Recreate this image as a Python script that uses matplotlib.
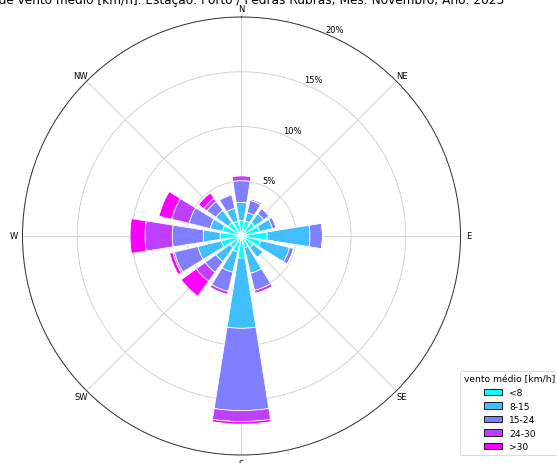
import numpy as np
import matplotlib
matplotlib.use("Agg")
import matplotlib.pyplot as plt
from matplotlib.patches import Patch

# Wind directions (16 sectors, clockwise from north)
directions = ["N", "NNE", "NE", "ENE", "E", "ESE", "SE", "SSE",
              "S", "SSW", "SW", "WSW", "W", "WNW", "NW", "NNW"]

# Speed classes [km/h]
speed_bins = ["<8", "8-15", "15-24", "24-30", ">30"]

# Frequency (%) of each speed class per direction
freq_lt8 = [1.4, 1.4, 1.5, 1.7, 2.35, 1.8, 1.3, 1.1, 2.0, 1.5, 1.3, 1.9, 1.96, 1.8, 1.5, 1.4]
freq_8_15 = [1.67, 0.8, 1.0, 1.2, 3.9, 2.7, 1.15, 2.4, 6.43, 1.9, 1.6, 2.2, 1.53, 1.14, 1.4, 1.2]
freq_15_24 = [1.98, 1.15, 0.6, 0.35, 1.15, 0.4, 0.0, 1.6, 7.52, 1.8, 1.2, 2.2, 2.83, 1.98, 1.0, 1.25]
freq_24_30 = [0.46, 0.15, 0.1, 0.0, 0.0, 0.0, 0.0, 0.3, 1.0, 0.3, 1.0, 0.15, 2.49, 1.63, 0.35, 0.1]
freq_gt30 = [0.0, 0.0, 0.0, 0.0, 0.0, 0.0, 0.0, 0.0, 0.22, 0.0, 1.7, 0.3, 1.37, 1.2, 0.6, 0.0]

radial_ticks = [5, 10, 15, 20]
radial_labels = ["5%", "10%", "15%", "20%"]
compass_labels = ["N", "NE", "E", "SE", "S", "SW", "W", "NW"]

title = ("Velocidade de vento médio [km/h]. Estação: Porto / Pedras Rubras; "
         "Mês: Novembro; Ano: 2023")

series = [freq_lt8, freq_8_15, freq_15_24, freq_24_30, freq_gt30]
colors = [plt.cm.cool(v) for v in np.linspace(0, 1, len(speed_bins))]

W, H = 557, 464
fig = plt.figure(figsize=(W / 100, H / 100), dpi=100)
ax = fig.add_axes([22.5 / W, 8 / H, 438 / W, 438 / H], projection="polar")
ax.set_theta_zero_location("N")
ax.set_theta_direction(-1)

nsec = len(directions)
dtheta = 2 * np.pi / nsec
theta = np.arange(nsec) * dtheta
width = 0.8 * dtheta

bottom = np.zeros(nsec)
for vals, col in zip(series, colors):
    vals = np.asarray(vals)
    ax.bar(theta, vals, width=width, bottom=bottom, color=col,
           edgecolor="white", linewidth=0.6, zorder=2)
    bottom = bottom + vals

ax.set_ylim(0, 20)
ax.set_rgrids(radial_ticks, radial_labels, fontsize=6)
ax.set_thetagrids(np.arange(0, 360, 45), compass_labels, fontsize=6)
ax.tick_params(axis="x", pad=-4.5)
ax.grid(True, color="#d3d3d3", linewidth=0.7, zorder=0)
ax.set_axisbelow(True)
ax.spines["polar"].set_linewidth(0.7)
ax.spines["polar"].set_color("#333333")

fig.text(504 / W, 1 - 4 / H, title, ha="right", va="baseline", fontsize=8.7)

handles = [Patch(facecolor=c, edgecolor="black", linewidth=0.6) for c in colors]
leg = ax.legend(handles, speed_bins, title="vento médio [km/h]",
                loc="lower left", bbox_to_anchor=(1.0, 0.0),
                borderaxespad=0.0, fontsize=6.6, title_fontsize=6.6,
                frameon=True)
leg.get_frame().set_linewidth(0.6)

fig.savefig("out.png", dpi=100)
